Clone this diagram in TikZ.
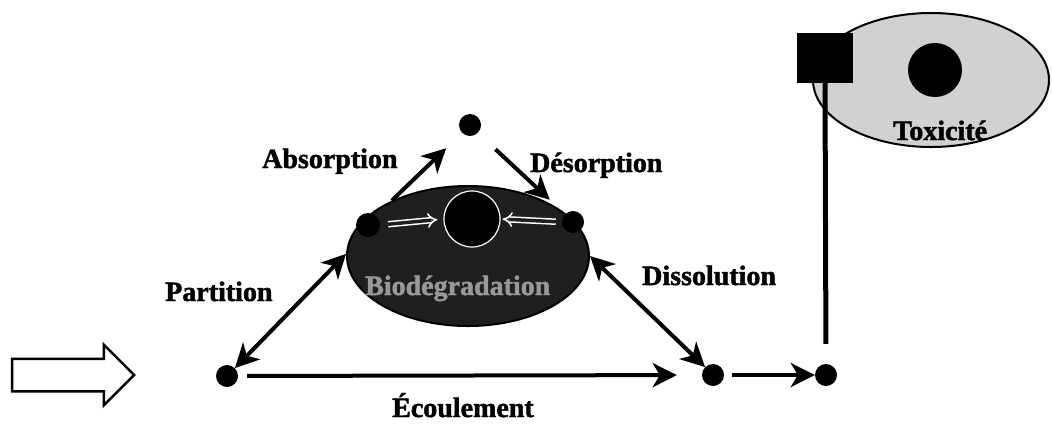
\documentclass[tikz,border=0pt]{standalone}
\usepackage{fontspec}
\setmainfont{Liberation Serif}
\newfontfamily\lblfont[FakeBold=1.6]{Liberation Serif Bold}
\usetikzlibrary{arrows.meta,positioning,shapes.geometric,shapes.arrows}

\begin{document}
\begin{tikzpicture}[x=1pt, y=-1pt,
  dot/.style={circle, fill=black, inner sep=0pt, minimum size=22pt},
  blob/.style={ellipse, draw, line width=2pt, inner sep=0pt},
  lbl/.style={font=\fontsize{28}{30}\lblfont, inner sep=0pt, anchor=base west},
  arr/.style={-{Stealth[length=24pt, width=24pt, inset=7pt]}, line width=4pt},
  dbl/.style={{Stealth[length=24pt, width=24pt, inset=7pt]}-{Stealth[length=24pt, width=24pt, inset=7pt]}, line width=4pt},
  inarr/.style={draw=white, double=black!88, double distance=3.5pt, line width=1.5pt, -{Implies}}]
\useasboundingbox (0,0) rectangle (1052,424);
\node[blob, fill=black!88, minimum width=242pt, minimum height=140pt] (bio) at (468,256) {};
\node[circle, fill=black, draw=white, line width=1.2pt, minimum size=56pt, inner sep=0pt] (core) at (472,219) {};
\node[dot, minimum size=24pt] (L) at (368,225) {};
\node[dot] (R) at (573,222) {};
\draw[inarr, shorten <=8pt, shorten >=6pt] (L.east) -- (core.west);
\draw[inarr, shorten <=6pt, shorten >=2pt] (R.west) -- (core.east);
\node[lbl, text=black!40] (biol) at (365,295) {Biodégradation};
\foreach \n/\x/\y in {A/227/376, B/713/375, C/826/375, T/470/125}
  \node[dot] (\n) at (\x,\y) {};
\node[blob, fill=black!18, minimum width=236pt, minimum height=134pt] (tox) at (931,80) {};
\node[circle, fill=black, minimum size=54pt, inner sep=0pt] (toxcore) at (935,70) {};
\node[fill=black, minimum width=56pt, minimum height=50pt, inner sep=0pt] (flag) at (825,58) {};
\draw[line width=5pt, shorten >=20pt] (flag.south) -- (C.north);
\node[lbl] (toxl) at (893,140) {Toxicité};
\node[single arrow, draw, line width=2.5pt, fill=white, inner xsep=0pt, inner ysep=15pt,
  minimum height=122pt, single arrow head extend=14pt] (inflow) at (65,375) {};
\draw[arr, shorten <=9pt, shorten >=25pt] (A) -- (B);
\draw[arr, shorten <=8pt] (B) -- (C);
\draw[dbl] (A.45) -- (bio.179);
\draw[dbl] (bio.0) -- (B.135);
\draw[arr, shorten >=22pt] (bio.144) -- (T.225);
\draw[arr, shorten <=24pt, shorten >=21pt] (T.315) -- (R.135);
\node[lbl] (absl) at (262,168) {Absorption};
\node[lbl] (desl) at (530,172) {Désorption};
\node[lbl] (parl) at (165,301) {Partition};
\node[lbl] (disl) at (642,285) {Dissolution};
\node[lbl] (ecol) at (392,417) {Écoulement};
\end{tikzpicture}
\end{document}
